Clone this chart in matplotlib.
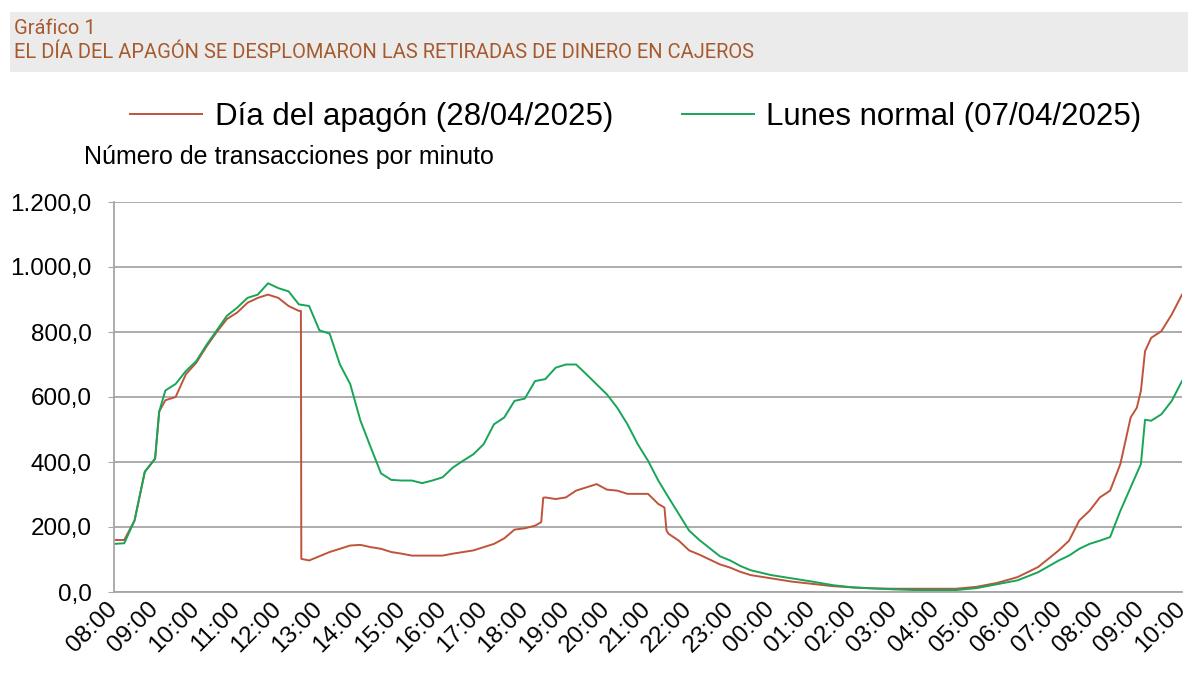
import matplotlib
matplotlib.use("Agg")
import matplotlib.pyplot as plt
from matplotlib.patches import Rectangle
from matplotlib.ticker import FuncFormatter

# hours since 08:00 on each day
apagon_t = [0, .25, .5, .75, 1.0, 1.1, 1.25, 1.5, 1.75, 2.0, 2.25, 2.5, 2.75, 3.0, 3.25,
            3.5, 3.75, 4.0, 4.25, 4.5, 4.55, 4.56, 4.75, 5.0, 5.25, 5.5, 5.75, 6.0, 6.25,
            6.5, 6.75, 7.0, 7.25, 7.5, 7.75, 8.0, 8.25, 8.5, 8.75, 9.0, 9.25, 9.5, 9.75,
            10.0, 10.25, 10.4, 10.45, 10.5, 10.75, 11.0, 11.25, 11.5, 11.75, 12.0, 12.25,
            12.5, 12.75, 13.0, 13.25, 13.4, 13.45, 13.5, 13.75, 14.0, 14.25, 14.5, 14.75,
            15.0, 15.25, 15.5, 16.0, 16.5, 17.0, 17.5, 18.0, 18.5, 19.0, 19.5, 20.0, 20.5,
            21.0, 21.5, 22.0, 22.5, 23.0, 23.25, 23.5, 23.75, 24.0, 24.25, 24.5, 24.75,
            24.9, 25.0, 25.1, 25.25, 25.5, 25.75, 26.0]
apagon_v = [160, 160, 220, 370, 410, 555, 590, 600, 670, 705, 755, 800, 840, 860, 890,
            905, 915, 905, 880, 865, 865, 102, 97, 110, 123, 133, 143, 145, 138,
            133, 123, 118, 112, 112, 112, 112, 118, 123, 128, 138, 148, 165, 192,
            196, 204, 215, 290, 291, 286, 291, 312, 322, 332, 315, 312,
            302, 302, 302, 271, 260, 189, 179, 158, 128, 115, 100, 85,
            75, 62, 52, 42, 32, 25, 18, 14, 11, 10, 10, 10, 10,
            16, 28, 46, 77, 128, 158, 220, 250, 291, 312, 394, 537,
            567, 619, 741, 782, 803, 854, 915]

normal_t = [0, .25, .5, .75, 1.0, 1.1, 1.25, 1.5, 1.75, 2.0, 2.25, 2.5, 2.75, 3.0, 3.25,
            3.5, 3.75, 4.0, 4.25, 4.5, 4.75, 5.0, 5.25, 5.5, 5.75, 6.0, 6.25, 6.5, 6.75,
            7.0, 7.25, 7.5, 7.75, 8.0, 8.25, 8.5, 8.75, 9.0, 9.25, 9.5, 9.75, 10.0, 10.25,
            10.5, 10.75, 11.0, 11.25, 11.5, 11.75, 12.0, 12.25, 12.5, 12.75, 13.0, 13.25,
            13.5, 13.75, 14.0, 14.25, 14.5, 14.75, 15.0, 15.25, 15.5, 16.0, 16.5, 17.0,
            17.5, 18.0, 18.5, 19.0, 19.5, 20.0, 20.5, 21.0, 21.5, 22.0, 22.5, 23.0, 23.25,
            23.5, 23.75, 24.0, 24.25, 24.5, 24.75, 25.0, 25.1, 25.25, 25.5, 25.75, 26.0]
normal_v = [148, 150, 220, 370, 410, 555, 620, 640, 680, 710, 760, 805, 850, 875, 905,
            915, 950, 935, 925, 885, 880, 805, 795, 700, 640, 527, 445, 365, 345,
            343, 343, 335, 343, 353, 383, 404, 424, 455, 516, 537, 588, 595, 649,
            655, 690, 700, 700, 670, 639, 608, 567, 516, 455, 404, 343,
            291, 240, 189, 160, 135, 110, 97, 80, 67, 52, 42, 32,
            21, 14, 11, 8, 6, 6, 6, 12, 24, 36, 61, 97, 112,
            133, 148, 158, 169, 250, 322, 394, 530, 527, 547, 588, 649]

hour_labels = ["08:00", "09:00", "10:00", "11:00", "12:00", "13:00", "14:00", "15:00",
               "16:00", "17:00", "18:00", "19:00", "20:00", "21:00", "22:00", "23:00",
               "00:00", "01:00", "02:00", "03:00", "04:00", "05:00", "06:00", "07:00",
               "08:00", "09:00", "10:00"]
y_ticks = [0, 200, 400, 600, 800, 1000, 1200]

red = "#C0533A"
green = "#17A558"
grid_col = "#A6A6A6"
title_col = "#A65A2E"

plt.rcParams["font.family"] = ["Liberation Sans", "DejaVu Sans"]

fig = plt.figure(figsize=(12, 6.97), dpi=100)

# title box
fig.patches.append(Rectangle((10 / 1200, 1 - 72 / 697), 1178 / 1200, 60 / 697,
                             transform=fig.transFigure, facecolor="#EBEBEB",
                             edgecolor="none", zorder=0))
fig.text(14 / 1200, 1 - 28 / 697, "Gráfico 1", color=title_col, fontsize=14.5,
         family="Roboto", va="center", ha="left")
fig.text(14 / 1200, 1 - 53 / 697,
         "EL DÍA DEL APAGÓN SE DESPLOMARON LAS RETIRADAS DE DINERO EN CAJEROS",
         color=title_col, fontsize=14.5, family="Roboto", va="center", ha="left")

ax = fig.add_axes([114 / 1200, 1 - 592 / 697, 1068 / 1200, 390 / 697])

l1, = ax.plot([t * 60 for t in apagon_t], apagon_v, color=red, lw=1.4,
              label="Día del apagón (28/04/2025)")
l2, = ax.plot([t * 60 for t in normal_t], normal_v, color=green, lw=1.4,
              label="Lunes normal (07/04/2025)")

ax.set_xlim(0, 26 * 60)
ax.set_ylim(0, 1200)
ax.set_yticks(y_ticks)
ax.yaxis.set_major_formatter(FuncFormatter(
    lambda v, p: f"{v:,.1f}".replace(",", "X").replace(".", ",").replace("X", ".")))
ax.set_xticks([h * 60 for h in range(len(hour_labels))])
ax.set_xticklabels(hour_labels, rotation=45, ha="right", va="center",
                   rotation_mode="anchor")

ax.grid(axis="y", color=grid_col, lw=1.3)
ax.set_axisbelow(True)
for s in ["top", "right"]:
    ax.spines[s].set_visible(False)
for s in ["left", "bottom"]:
    ax.spines[s].set_color(grid_col)
    ax.spines[s].set_linewidth(1.3)
ax.tick_params(axis="y", length=4, color=grid_col, labelsize=17.5, pad=12)
ax.tick_params(axis="x", length=0, labelsize=17.5, pad=10)

fig.text(84 / 1200, 1 - 157 / 697, "Número de transacciones por minuto",
         fontsize=18, ha="left", va="center")

fig.legend(handles=[l1, l2], loc="center", bbox_to_anchor=(0.53, 1 - 117 / 697),
           ncol=2, frameon=False, fontsize=22.5, handlelength=2.3,
           handletextpad=0.4, columnspacing=2.2)

fig.savefig("out.png", dpi=100)
